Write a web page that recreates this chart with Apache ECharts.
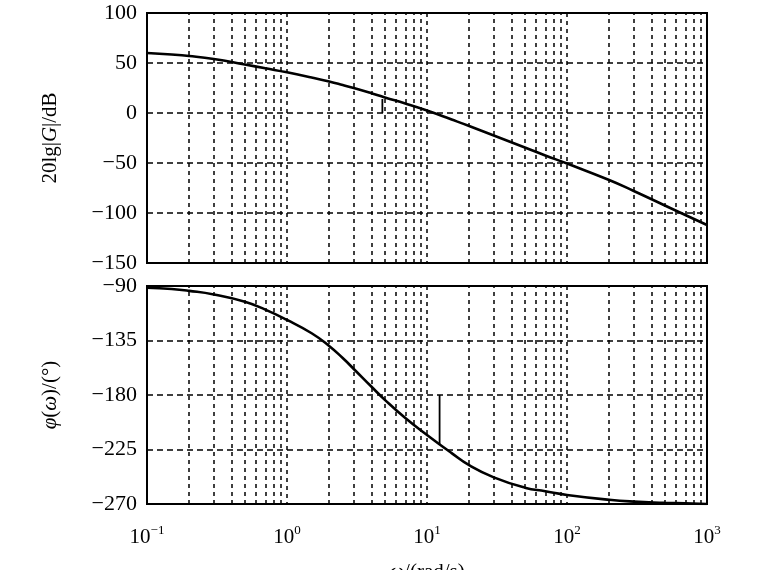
<!DOCTYPE html>
<html>
<head>
<meta charset="utf-8">
<script src="https://cdn.jsdelivr.net/npm/echarts@6/dist/echarts.min.js"></script>
<style>
  html, body { margin: 0; padding: 0; background: #fff; }
  #chart { width: 761px; height: 570px; }
</style>
</head>
<body>
<div id="chart"></div>
<script>
// frequency points (rad/s)
const omega = [0.1, 0.15, 0.2, 0.3, 0.5, 0.7, 1, 1.5, 2, 2.5, 3, 4, 5, 7, 10, 15, 20, 30, 50, 70, 100, 200, 300, 500, 700, 1000];
// 20lg|G| in dB
const magDb = [60, 58.5, 57, 54, 48.5, 44.7, 40.7, 35.5, 31.5, 28, 25, 19.8, 15.5, 9.5, 2.5, -6.5, -13, -22.5, -34.5, -42.5, -50.5, -67, -78, -92.5, -102, -112];
// phase in degrees
const phaseDeg = [-91.5, -92.5, -94, -97, -103, -109.5, -118, -129, -139.5, -149.5, -158.5, -173, -184, -199, -213, -228, -238, -248, -256.5, -259.5, -262.5, -266.5, -268, -269, -269.5, -270];

// margin markers
const gainMarkW = 4.8;
const gainMark = [0, 14];
const phaseMarkW = 12.3;
const phaseMark = [-180, -221];

const decadeLabels = { '0.1': '-1', '1': '0', '10': '1', '100': '2', '1000': '3' };

// minor vertical grid positions 2..9 of each decade
const minorX = [];
[0.1, 1, 10, 100].forEach(function (d) {
  for (let k = 2; k <= 9; k++) minorX.push(+(d * k).toPrecision(3));
});

const chart = echarts.init(document.getElementById('chart'));
const serif = 'Liberation Serif, Times New Roman, serif';
const ink = '#000';

function xAxisOpt(idx, showLabel) {
  return {
    type: 'log', logBase: 10, gridIndex: idx, min: 0.1, max: 1000,
    axisLine: { show: false },
    axisTick: { show: false },
    splitLine: { show: true, lineStyle: { color: ink, width: 1.5, type: [4, 4] } },
    axisLabel: {
      show: showLabel, margin: 20,
      formatter: function (v) { return '{b|10}{s|' + decadeLabels[String(+v.toPrecision(3))].replace('-', '−') + '}'; },
      rich: {
        b: { fontFamily: serif, fontSize: 21, color: ink },
        s: { fontFamily: serif, fontSize: 13, color: ink, padding: [0, 0, 13, 0] }
      }
    }
  };
}

function yAxisOpt(idx, min, max, interval, name) {
  return {
    type: 'value', gridIndex: idx, min: min, max: max, interval: interval,
    axisLine: { show: false },
    axisTick: { show: false },
    splitLine: { show: true, lineStyle: { color: ink, width: 1.5, type: [6, 4] } },
    axisLabel: {
      margin: 10, fontFamily: serif, fontSize: 22, color: ink,
      formatter: function (v) { return String(v).replace('-', '−'); }
    },
    name: name, nameLocation: 'middle', nameGap: 86, nameRotate: 90,
    nameTextStyle: {
      fontFamily: serif, fontSize: 21, color: ink,
      rich: { i: { fontFamily: serif, fontSize: 21, fontStyle: 'italic', color: ink } }
    }
  };
}

const minorLines = {
  silent: true, symbol: 'none', label: { show: false },
  lineStyle: { color: ink, width: 1.5, type: [4, 4] },
  data: minorX.map(function (v) { return { xAxis: v }; })
};

const option = {
  animation: false,
  backgroundColor: '#fff',
  grid: [
    { left: 147, top: 13, width: 560, height: 250, show: true, borderColor: ink, borderWidth: 2, containLabel: false, outerBoundsMode: 'none' },
    { left: 147, top: 286, width: 560, height: 218, show: true, borderColor: ink, borderWidth: 2, containLabel: false, outerBoundsMode: 'none' }
  ],
  xAxis: [
    xAxisOpt(0, false),
    Object.assign(xAxisOpt(1, true), {
      name: '{i|ω}/(rad/s)', nameLocation: 'middle', nameGap: 58, nameMoveOverlap: false,
      nameTextStyle: { fontFamily: serif, fontSize: 21, color: ink,
        rich: { i: { fontFamily: serif, fontSize: 21, fontStyle: 'italic', color: ink } } }
    })
  ],
  yAxis: [
    yAxisOpt(0, -150, 100, 50, '20lg|{i|G}|/dB'),
    yAxisOpt(1, -270, -90, 45, '{i|φ}({i|ω})/(°)')
  ],
  series: [
    {
      type: 'line', xAxisIndex: 0, yAxisIndex: 0, smooth: true, showSymbol: false,
      lineStyle: { color: ink, width: 2.6 },
      data: omega.map(function (w, i) { return [w, magDb[i]]; }),
      markLine: minorLines
    },
    {
      type: 'line', xAxisIndex: 0, yAxisIndex: 0, showSymbol: false,
      lineStyle: { color: ink, width: 1.8 },
      data: gainMark.map(function (v) { return [gainMarkW, v]; })
    },
    {
      type: 'line', xAxisIndex: 1, yAxisIndex: 1, smooth: true, showSymbol: false,
      lineStyle: { color: ink, width: 2.6 },
      data: omega.map(function (w, i) { return [w, phaseDeg[i]]; }),
      markLine: minorLines
    },
    {
      type: 'line', xAxisIndex: 1, yAxisIndex: 1, showSymbol: false,
      lineStyle: { color: ink, width: 1.8 },
      data: phaseMark.map(function (v) { return [phaseMarkW, v]; })
    }
  ]
};

chart.setOption(option);
</script>
</body>
</html>
